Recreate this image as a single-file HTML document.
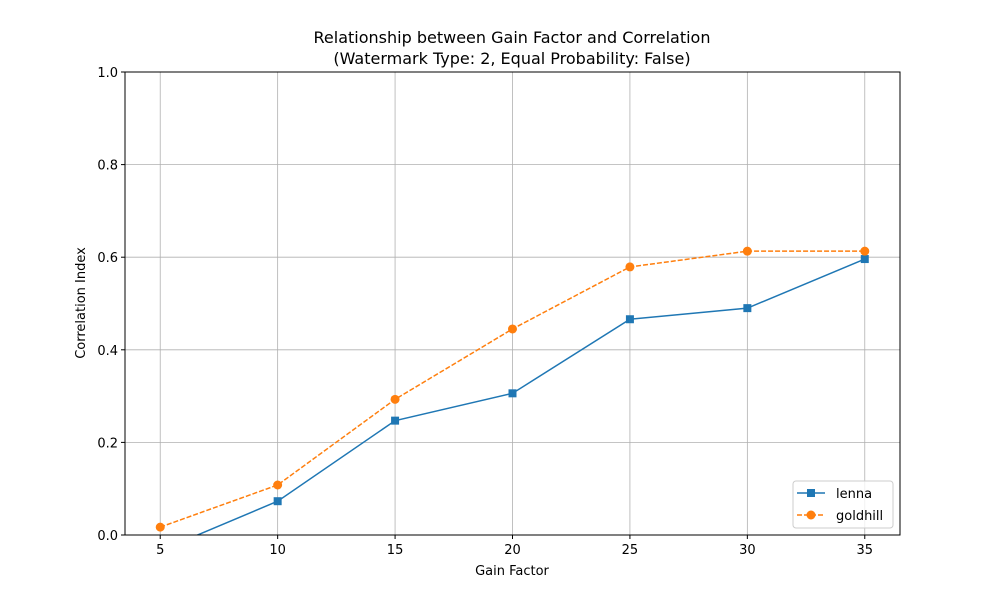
<!DOCTYPE html>
<html><head><meta charset="utf-8"><style>
body{margin:0;background:#fff;font-family:"Liberation Sans","DejaVu Sans",sans-serif;}
svg text{font-family:"DejaVu Sans","Liberation Sans",sans-serif;}
</style></head><body>
<svg id="chart" width="1000" height="600" xmlns="http://www.w3.org/2000/svg">
<defs><clipPath id="plotclip"><rect x="125" y="72" width="775" height="463"/></clipPath></defs>
<rect width="1000" height="600" fill="#fff"/>
<text x="512" y="43" font-size="16" text-anchor="middle">Relationship between Gain Factor and Correlation</text>
<text x="512" y="64" font-size="16" text-anchor="middle">(Watermark Type: 2, Equal Probability: False)</text>
<g id="grid"></g>
<g id="series" clip-path="url(#plotclip)"></g>
<rect x="125" y="72" width="775" height="463" fill="none" stroke="#000" stroke-width="1"/>
<g id="ticks"></g>
<text x="512" y="575" font-size="13" text-anchor="middle">Gain Factor</text>
<text x="0" y="0" font-size="13" text-anchor="middle" transform="translate(85,303) rotate(-90)">Correlation Index</text>
<g>
<rect x="793" y="481" width="100" height="47" rx="3" fill="#fff" fill-opacity="0.8" stroke="#ccc"/>
<g>
<line x1="797" y1="493" x2="825" y2="493" stroke="#1f77b4" stroke-width="1.5"/>
<rect x="807" y="489" width="8" height="8" fill="#1f77b4"/>
<text x="836" y="498" font-size="13">lenna</text></g>
<g>
<line x1="797" y1="515" x2="825" y2="515" stroke="#ff7f0e" stroke-width="1.5" stroke-dasharray="5,2"/>
<circle cx="811" cy="515" r="4.5" fill="#ff7f0e"/>
<text x="836" y="520" font-size="13">goldhill</text></g>
</g>
</svg>
<script>
const gains = [5, 10, 15, 20, 25, 30, 35];
const lenna = [-0.034, 0.073, 0.247, 0.306, 0.466, 0.490, 0.596];
const goldhill = [0.017, 0.108, 0.293, 0.445, 0.579, 0.613, 0.613];
const xTicks = [5, 10, 15, 20, 25, 30, 35];
const yTicks = [0.0, 0.2, 0.4, 0.6, 0.8, 1.0];
const NS = "http://www.w3.org/2000/svg";
const X0 = 125, X1 = 900, Y0 = 535, Y1 = 72, XMIN = 3.5, XMAX = 36.5, YMIN = 0, YMAX = 1;
function sx(v){return X0 + (v - XMIN) / (XMAX - XMIN) * (X1 - X0);}
function sy(v){return Y0 - (v - YMIN) / (YMAX - YMIN) * (Y0 - Y1);}
function mk(tag, attrs, parent){const e = document.createElementNS(NS, tag); for (const k in attrs) e.setAttribute(k, attrs[k]); parent.appendChild(e); return e;}
const grid = document.getElementById('grid'), ticks = document.getElementById('ticks'), series = document.getElementById('series');
xTicks.forEach(t => {
  const x = sx(t);
  const g = mk('line', {x1: x, x2: x, y1: Y1, y2: Y0, stroke: '#b0b0b0', 'stroke-width': 0.8}, grid);
  
  
  mk('line', {x1: x, x2: x, y1: Y0, y2: Y0 + 4, stroke: '#000'}, ticks);
  const tx = mk('text', {x: x, y: Y0 + 19, 'font-size': 13, 'text-anchor': 'middle'}, ticks);
  tx.textContent = t;
  
  
});
yTicks.forEach(t => {
  const y = sy(t);
  const g = mk('line', {x1: X0, x2: X1, y1: y, y2: y, stroke: '#b0b0b0', 'stroke-width': 0.8}, grid);
  
  
  mk('line', {x1: X0 - 4, x2: X0, y1: y, y2: y, stroke: '#000'}, ticks);
  const tx = mk('text', {x: X0 - 7, y: y + 5, 'font-size': 13, 'text-anchor': 'end'}, ticks);
  tx.textContent = t.toFixed(1);
  
  
});
function drawSeries(vals, color, dash, marker, name){
  const pts = gains.map((g, i) => sx(g) + ',' + sy(vals[i])).join(' ');
  const pl = mk('polyline', {points: pts, fill: 'none', stroke: color, 'stroke-width': 1.5}, series);
  if (dash) pl.setAttribute('stroke-dasharray', dash);
  
  
  gains.forEach((g, i) => {
    let m;
    if (marker === 'square') m = mk('rect', {x: sx(g) - 4, y: sy(vals[i]) - 4, width: 8, height: 8, fill: color}, series);
    else m = mk('circle', {cx: sx(g), cy: sy(vals[i]), r: 4.5, fill: color}, series);
    
    
  });
}
drawSeries(lenna, '#1f77b4', null, 'square', 'lenna');
drawSeries(goldhill, '#ff7f0e', '5,2', 'circle', 'goldhill');
</script>
</body></html>
